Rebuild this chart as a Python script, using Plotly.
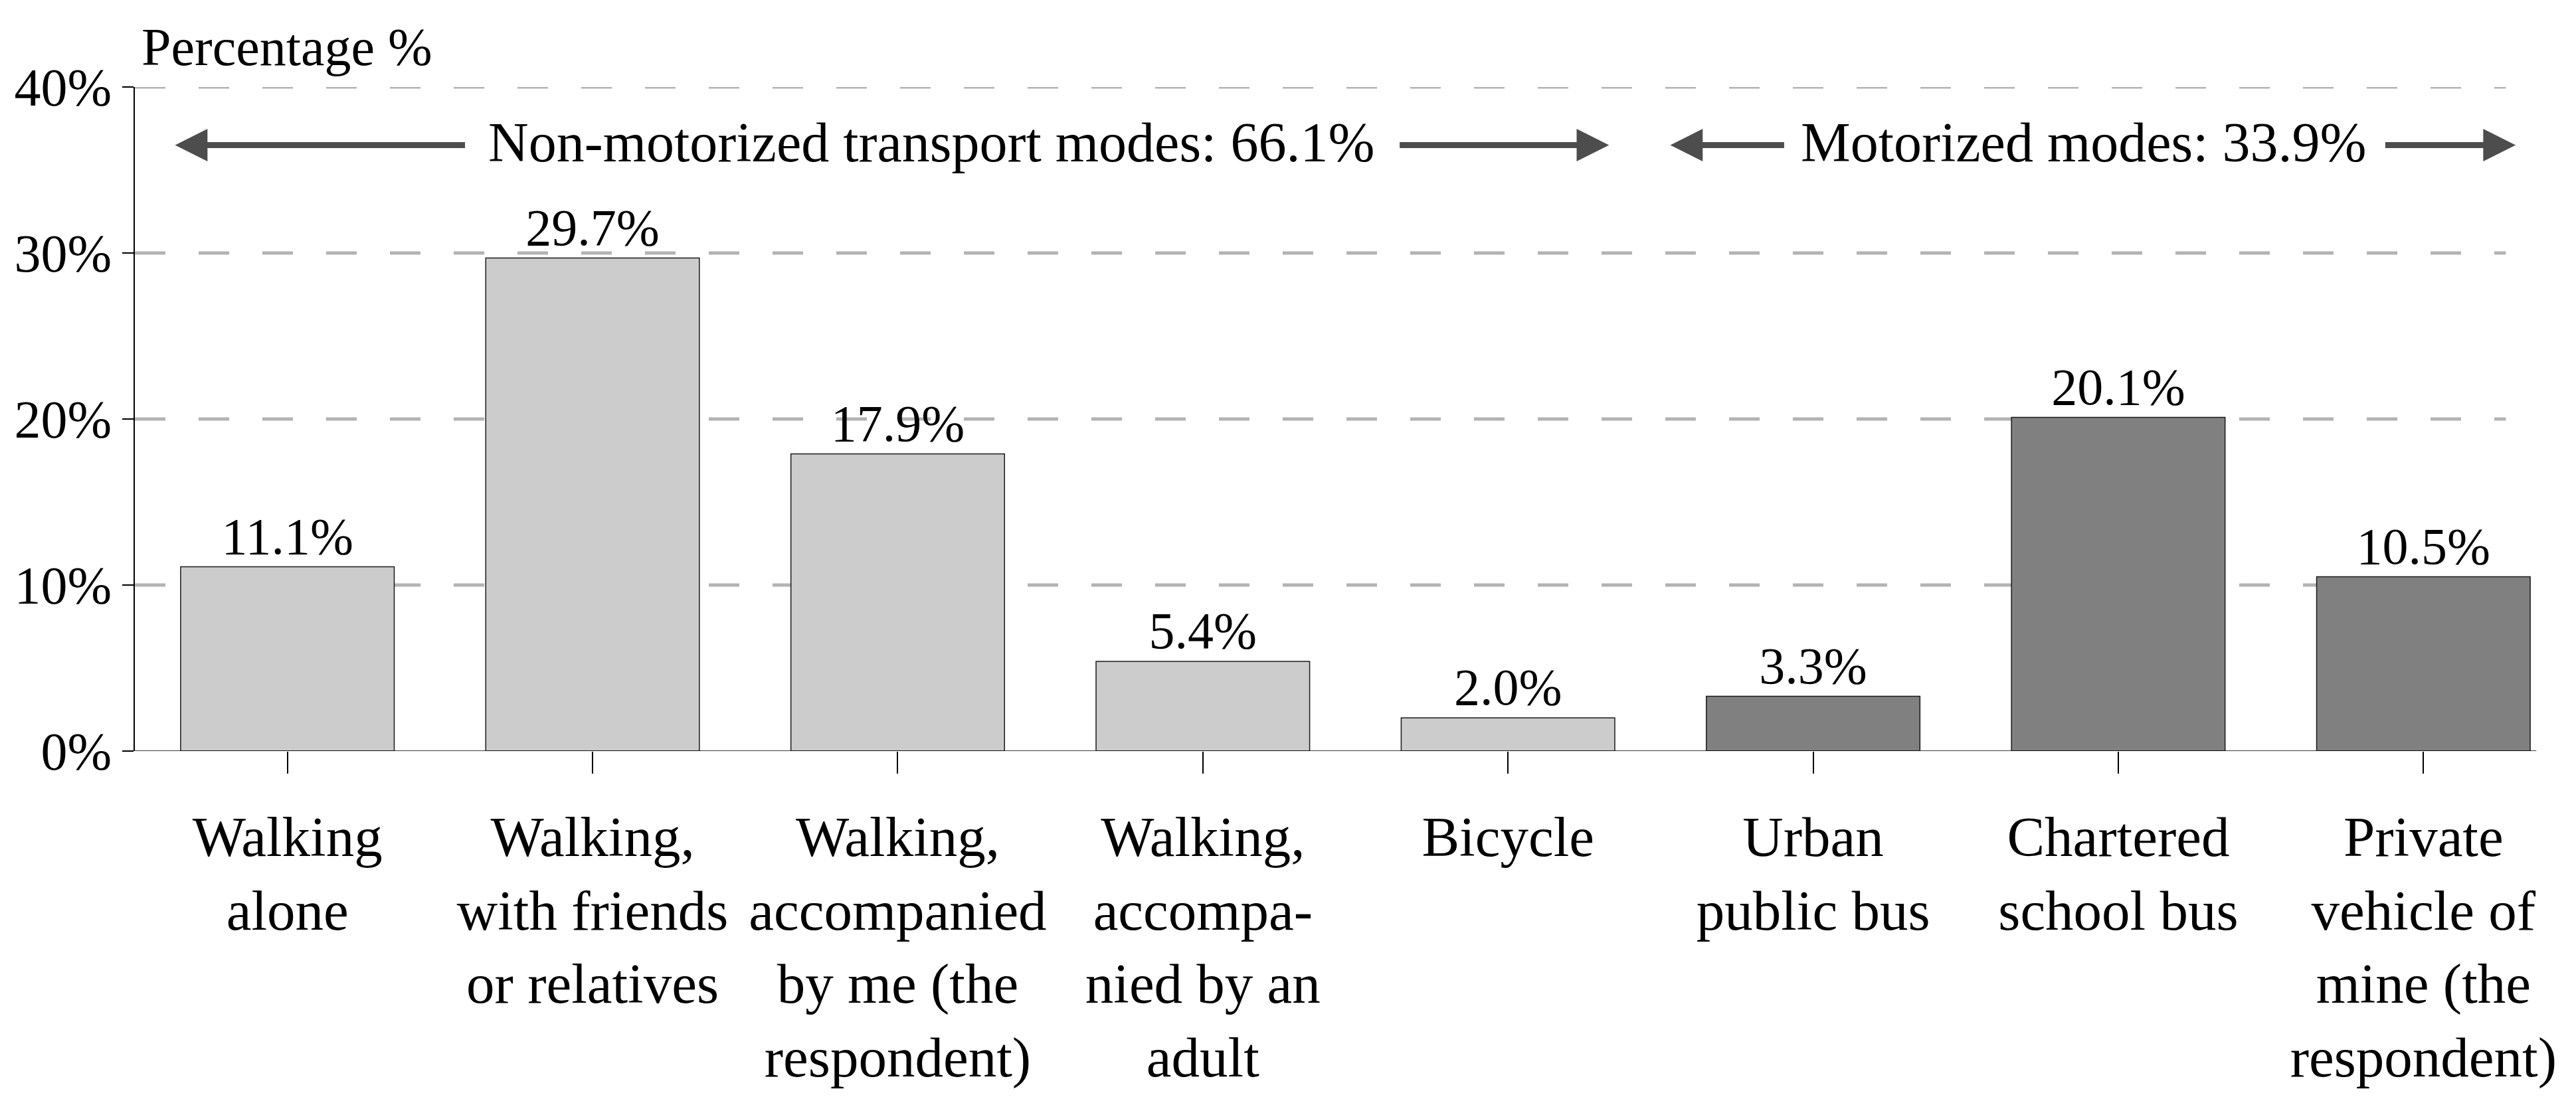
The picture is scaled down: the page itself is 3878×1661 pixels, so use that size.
import plotly.graph_objects as go

# ---------------- data ----------------
categories = [
    "Walking<br>alone",
    "Walking,<br>with friends<br>or relatives",
    "Walking,<br>accompanied<br>by me (the<br>respondent)",
    "Walking,<br>accompa-<br>nied by an<br>adult",
    "Bicycle",
    "Urban<br>public bus",
    "Chartered<br>school bus",
    "Private<br>vehicle of<br>mine (the<br>respondent)",
]
values = [11.1, 29.7, 17.9, 5.4, 2.0, 3.3, 20.1, 10.5]
groups = ["non", "non", "non", "non", "non", "mot", "mot", "mot"]
y_ticks = [0, 10, 20, 30, 40]
y_tick_labels = ["0%", "10%", "20%", "30%", "40%"]
group_labels = ["Non-motorized transport modes: 66.1%", "Motorized modes: 33.9%"]
# arrow geometry per group (category-axis units): left tip, left line end, right line start, right tip, text centre
group_arrows = [
    [-0.361, 0.582, 3.645, 4.324, 2.11],
    [4.539, 4.905, 6.875, 7.295, 5.887],
]
arrow_level = 36.5
y_title = "Percentage %"

# ---------------- style ----------------
W, H = 3870, 1653          # page adds an 8px body margin
ML, MR, MT, MB = 195, 0, 123, 530
FONT = "Liberation Serif, Times New Roman, serif"
group_colors = {"non": "#cccccc", "mot": "#808080"}
ARROW_COLOR = "#4d4d4d"
HEAD_LEN, HEAD_HALF = 44, 22
n = len(categories)
band_px = (W - ML - MR) / n
head_off = (HEAD_LEN - 6) / band_px

fig = go.Figure()
fig.add_trace(go.Bar(
    x=list(range(n)), y=values,
    marker=dict(color=[group_colors[g] for g in groups], line=dict(color="#1a1a1a", width=1.5)),
    width=0.7,
    text=[f"{v:.1f}%" for v in values], textposition="outside",
    textfont=dict(family=FONT, size=78, color="black"),
    cliponaxis=False, showlegend=False,
))

shapes = []
# dashed gridlines
for t in y_ticks[1:]:
    shapes.append(dict(type="line", xref="x", yref="y", x0=-0.5, x1=7.27, y0=t, y1=t,
                       line=dict(color="#b3b3b3", width=5, dash="46px,50px"), layer="below"))
# x axis line
shapes.append(dict(type="line", xref="x", yref="y", x0=-0.5, x1=7.37, y0=0, y1=0,
                   line=dict(color="black", width=1.5), layer="above"))

annotations = []
for (lt, le, rs, rt, tc), lab in zip(group_arrows, group_labels):
    shapes.append(dict(type="line", xref="x", yref="y", x0=lt + head_off, x1=le, y0=arrow_level, y1=arrow_level,
                       line=dict(color=ARROW_COLOR, width=9)))
    shapes.append(dict(type="line", xref="x", yref="y", x0=rs, x1=rt - head_off, y0=arrow_level, y1=arrow_level,
                       line=dict(color=ARROW_COLOR, width=9)))
    shapes.append(dict(type="path", xref="x", yref="y", xsizemode="pixel", ysizemode="pixel",
                       xanchor=lt, yanchor=arrow_level,
                       path=f"M0,0 L{HEAD_LEN},{HEAD_HALF} L{HEAD_LEN},{-HEAD_HALF} Z",
                       fillcolor=ARROW_COLOR, line=dict(color=ARROW_COLOR, width=3)))
    shapes.append(dict(type="path", xref="x", yref="y", xsizemode="pixel", ysizemode="pixel",
                       xanchor=rt, yanchor=arrow_level,
                       path=f"M0,0 L{-HEAD_LEN},{HEAD_HALF} L{-HEAD_LEN},{-HEAD_HALF} Z",
                       fillcolor=ARROW_COLOR, line=dict(color=ARROW_COLOR, width=3)))
    annotations.append(dict(x=tc, y=arrow_level, xref="x", yref="y", text=lab, showarrow=False,
                            xanchor="center", yanchor="middle", yshift=4,
                            font=dict(family=FONT, size=84, color="black")))

annotations.append(dict(x=0, y=1.06, xref="paper", yref="paper", text=y_title, showarrow=False,
                        xanchor="left", yanchor="middle", xshift=8,
                        font=dict(family=FONT, size=80, color="black")))

fig.update_layout(
    width=W, height=H,
    margin=dict(l=ML, r=MR, t=MT, b=MB, pad=0),
    paper_bgcolor="white", plot_bgcolor="white",
    font=dict(family=FONT, color="black"),
    bargap=0.3,
    shapes=shapes, annotations=annotations,
    xaxis=dict(range=[-0.5, n - 0.5], tickvals=list(range(n)), ticktext=categories,
               showgrid=False, zeroline=False, showline=False,
               ticks="outside", ticklen=33, tickwidth=1.5, tickcolor="black",
               tickfont=dict(family=FONT, size=85, color="black"),
               ticklabelstandoff=22),
    yaxis=dict(range=[0, 40], tickvals=y_ticks, ticktext=y_tick_labels,
               showgrid=False, zeroline=False, showline=True, linecolor="black", linewidth=1.5,
               ticks="outside", ticklen=17, tickwidth=1.5, tickcolor="black",
               tickfont=dict(family=FONT, size=80, color="black")),
)

fig.write_html("out.html")
